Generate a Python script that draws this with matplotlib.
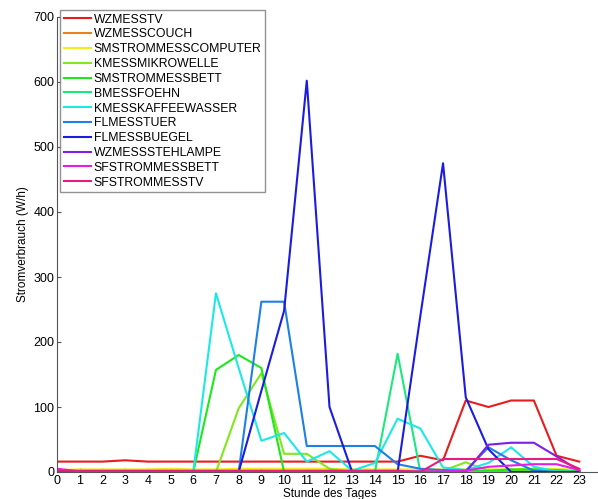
import matplotlib
matplotlib.use('Agg')
import matplotlib.pyplot as plt
import numpy as np

plt.rcParams['font.family'] = ['Liberation Sans', 'DejaVu Sans']

hours = list(range(24))

names = ['WZMESSTV', 'WZMESSCOUCH', 'SMSTROMMESSCOMPUTER', 'KMESSMIKROWELLE',
         'SMSTROMMESSBETT', 'BMESSFOEHN', 'KMESSKAFFEEWASSER', 'FLMESSTUER',
         'FLMESSBUEGEL', 'WZMESSSTEHLAMPE', 'SFSTROMMESSBETT', 'SFSTROMMESSTV']

wz_tv = [16, 16, 16, 18, 16, 16, 16, 16, 16, 16, 16, 16, 16, 16, 16, 16, 25, 18, 110, 100, 110, 110, 25, 16]
wz_couch = [2, 2, 2, 2, 2, 2, 2, 2, 2, 2, 2, 2, 2, 2, 2, 2, 2, 2, 2, 2, 2, 2, 2, 2]
sm_computer = [3, 4, 4, 4, 4, 5, 4, 4, 5, 5, 5, 5, 5, 4, 4, 4, 4, 4, 4, 4, 4, 5, 5, 3]
k_mikrowelle = [0, 0, 0, 0, 0, 0, 0, 0, 98, 152, 28, 28, 5, 0, 0, 0, 0, 2, 15, 2, 2, 2, 2, 1]
sm_bett = [0, 0, 0, 0, 0, 0, 0, 157, 180, 160, 0, 0, 0, 0, 0, 0, 0, 0, 1, 2, 4, 4, 3, 1]
b_foehn = [0, 0, 0, 0, 0, 0, 0, 0, 0, 0, 0, 0, 0, 0, 0, 182, 0, 0, 0, 0, 0, 0, 0, 0]
k_kaffee = [0, 0, 0, 0, 0, 0, 0, 275, 160, 48, 60, 16, 32, 2, 14, 82, 67, 7, 3, 14, 38, 8, 1, 0]
fl_tuer = [0, 0, 0, 0, 0, 0, 0, 0, 0, 262, 262, 40, 40, 40, 40, 12, 5, 3, 2, 38, 18, 2, 0, 0]
fl_buegel = [0, 0, 0, 0, 0, 0, 0, 0, 0, 125, 248, 602, 100, 0, 0, 0, 240, 475, 115, 35, 0, 0, 0, 0]
wz_stehlampe = [0, 0, 0, 0, 0, 0, 0, 0, 0, 0, 0, 0, 0, 0, 0, 0, 0, 0, 0, 42, 45, 45, 24, 2]
sf_bett = [5, 1, 1, 1, 1, 1, 1, 1, 1, 1, 1, 1, 1, 1, 1, 1, 1, 1, 2, 8, 10, 12, 12, 3]
sf_tv = [2, 2, 2, 2, 2, 2, 2, 2, 2, 2, 2, 2, 2, 2, 2, 2, 0, 20, 20, 20, 20, 20, 20, 5]

series = [wz_tv, wz_couch, sm_computer, k_mikrowelle, sm_bett, b_foehn,
          k_kaffee, fl_tuer, fl_buegel, wz_stehlampe, sf_bett, sf_tv]

# matlab hsv(12), etwas abgedunkelt
colors = ['#e81c1c', '#ec801c', '#eeee1c', '#80e81c', '#1ce81c', '#1ce880',
          '#1ce8e8', '#1c80e8', '#1c1ce0', '#801ce8', '#e81ce8', '#e81c80']

fig = plt.figure(figsize=(5.98, 4.99), dpi=100)
ax = fig.add_axes([57/598, 27/499, 545/598, 455/499])

for vals, name, c in zip(series, names, colors):
    ax.plot(hours, vals, color=c, lw=1.5, label=name)

ax.set_xlim(0, 24)
ax.set_ylim(0, 700)
ax.set_xticks(hours)
ax.set_yticks(range(0, 701, 100))
ax.tick_params(direction='in', labelsize=9, length=3, color='#555555', pad=2)
for s in ['top', 'right']:
    ax.spines[s].set_visible(False)
for s in ['left', 'bottom']:
    ax.spines[s].set_color('#555555')

ax.set_xlabel('Stunde des Tages', fontsize=8.5, labelpad=1)
ax.set_ylabel('Stromverbrauch (W/h)', fontsize=8.5, labelpad=3)

leg = ax.legend(loc='upper left', bbox_to_anchor=(60/598, 1 - 10/499),
                bbox_transform=fig.transFigure, fontsize=8.8, frameon=True,
                fancybox=False, handlelength=2.2, handletextpad=0.25,
                labelspacing=0.23, borderpad=0.3, borderaxespad=0)
leg.get_frame().set_edgecolor('#777777')
leg.get_frame().set_linewidth(1.0)

fig.savefig('out.png', dpi=100)
